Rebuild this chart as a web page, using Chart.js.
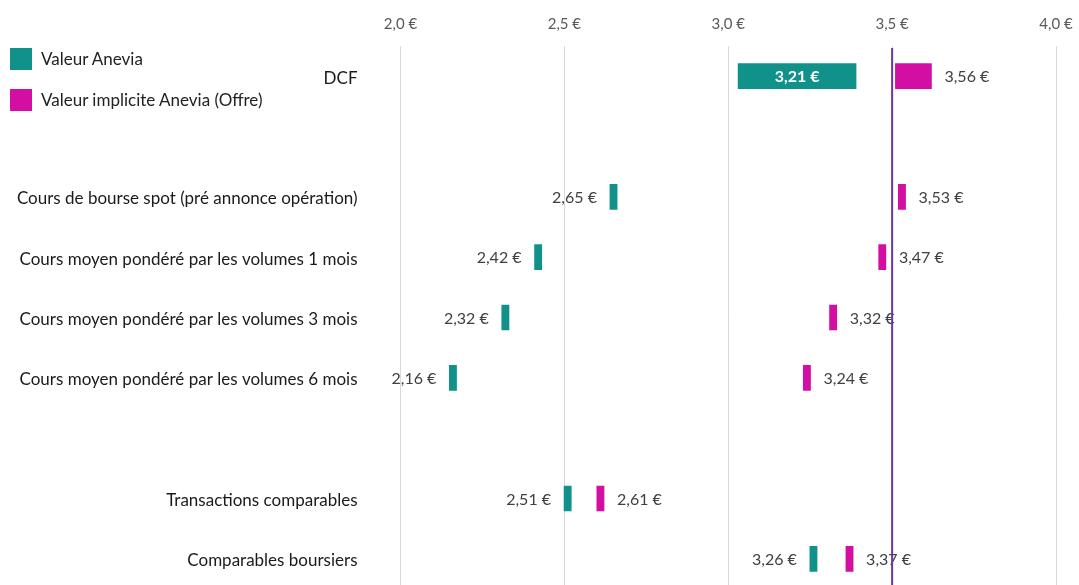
<!DOCTYPE html>
<html>
<head>
<meta charset="utf-8">
<script src="https://cdn.jsdelivr.net/npm/chart.js@4.4.1/dist/chart.umd.min.js"></script>
<style>
  html, body { margin: 0; padding: 0; background: #fff; overflow: hidden; }
  #wrap { position: relative; width: 1079px; height: 589px; }
  #myChart { display: block; }
  #legend { position: absolute; left: 10px; top: 48px; font-family: Lato, sans-serif; font-size: 17px; color: #222; }
  #legend div { height: 22px; line-height: 22px; margin-bottom: 19px; white-space: nowrap; }
  #legend span { display: inline-block; width: 22px; height: 22px; vertical-align: top; margin-right: 9px; }
</style>
</head>
<body>
<div id="wrap">
  <canvas id="myChart" width="1079" height="589"></canvas>
  <div id="legend"></div>
</div>
<script>
// rows of the chart (empty strings are spacer rows)
const categories = [
  'DCF',
  '',
  'Cours de bourse spot (pré annonce opération)',
  'Cours moyen pondéré par les volumes 1 mois',
  'Cours moyen pondéré par les volumes 3 mois',
  'Cours moyen pondéré par les volumes 6 mois',
  '',
  'Transactions comparables',
  'Comparables boursiers'
];
const seriesNames = ['Valeur Anevia', 'Valeur implicite Anevia (Offre)'];
const valeurAnevia = [3.21, null, 2.65, 2.42, 2.32, 2.16, null, 2.51, 3.26];
const valeurOffre = [3.56, null, 3.53, 3.47, 3.32, 3.24, null, 2.61, 3.37];
// DCF range (low, high)
const dcfAnevia = [3.03, 3.39];
const dcfOffre = [3.51, 3.62];
const prixOffre = 3.5;
const xTicks = [2.0, 2.5, 3.0, 3.5, 4.0];

const TEAL = '#10928a';
const MAGENTA = '#d30fa3';
const PURPLE = '#6a35a3';
const MARK_HALF = 0.011; // half width of the small markers, in €
const FONT = 'Lato, sans-serif';

const euro = (v, d) => v.toFixed(d).replace('.', ',') + ' €';

function toBars(values, dcfRange) {
  return values.map((v, i) => {
    if (v === null) return null;
    if (i === 0) return dcfRange;
    return [v - MARK_HALF, v + MARK_HALF];
  });
}

// legend (html)
const legendEl = document.getElementById('legend');
[TEAL, MAGENTA].forEach((c, i) => {
  const row = document.createElement('div');
  row.innerHTML = '<span style="background:' + c + '"></span>' + seriesNames[i];
  legendEl.appendChild(row);
});

// value labels next to / inside the bars
const valueLabels = {
  id: 'valueLabels',
  afterDatasetsDraw(chart) {
    const ctx = chart.ctx;
    const lists = [valeurAnevia, valeurOffre];
    chart.data.datasets.forEach((ds, di) => {
      const meta = chart.getDatasetMeta(di);
      meta.data.forEach((bar, i) => {
        const v = lists[di][i];
        if (v === null) return;
        const left = Math.min(bar.x, bar.base);
        const right = Math.max(bar.x, bar.base);
        ctx.save();
        ctx.textBaseline = 'middle';
        if (right - left > 60) {
          ctx.font = 'bold 16px ' + FONT;
          ctx.fillStyle = '#fff';
          ctx.textAlign = 'center';
          ctx.fillText(euro(v, 2), (left + right) / 2, bar.y + 1);
        } else {
          ctx.font = '16px ' + FONT;
          ctx.fillStyle = '#404040';
          if (di === 0) {
            ctx.textAlign = 'right';
            ctx.fillText(euro(v, 2), left - 13, bar.y + 1);
          } else {
            ctx.textAlign = 'left';
            ctx.fillText(euro(v, 2), right + 13, bar.y + 1);
          }
        }
        ctx.restore();
      });
    });
  }
};

// vertical line at the offer price
const offerLine = {
  id: 'offerLine',
  afterDraw(chart) {
    const ctx = chart.ctx;
    const x = chart.scales.x.getPixelForValue(prixOffre);
    ctx.save();
    ctx.strokeStyle = PURPLE;
    ctx.lineWidth = 2;
    ctx.beginPath();
    ctx.moveTo(x, chart.chartArea.top + 2);
    ctx.lineTo(x, chart.chartArea.bottom);
    ctx.stroke();
    ctx.restore();
  }
};

const ctx = document.getElementById('myChart');
const chart = new Chart(ctx, {
  type: 'bar',
  data: {
    labels: categories,
    datasets: [{
      label: seriesNames[0],
      data: toBars(valeurAnevia, dcfAnevia),
      backgroundColor: TEAL,
      barThickness: 25,
      grouped: false
    }, {
      label: seriesNames[1],
      data: toBars(valeurOffre, dcfOffre),
      backgroundColor: MAGENTA,
      barThickness: 25,
      grouped: false
    }]
  },
  options: {
    indexAxis: 'y',
    responsive: false,
    animation: false,
    layout: { padding: { left: 0, right: 23, top: 0, bottom: 0 } },
    plugins: {
      legend: { display: false },
      tooltip: { enabled: false }
    },
    scales: {
      x: {
        position: 'top',
        min: 2,
        max: 4,
        afterBuildTicks: s => { s.ticks = xTicks.map(v => ({ value: v })); },
        afterFit: s => {
          s.height = 46;
          s.paddingLeft = 0;
          s.paddingRight = 0;
        },
        grid: { color: '#d9d9d9', drawTicks: false },
        border: { display: false },
        ticks: {
          padding: 13,
          color: '#595959',
          font: { family: FONT, size: 15 },
          callback: v => euro(v, 1)
        }
      },
      y: {
        afterFit: s => {
          s.width = 400.5;
          s.paddingTop = 0;
          s.paddingBottom = 0;
        },
        grid: { display: false, drawTicks: false },
        border: { display: false },
        ticks: {
          padding: 43,
          labelOffset: 2,
          color: '#1a1a1a',
          font: { family: FONT, size: 17 },
          autoSkip: false
        }
      }
    }
  },
  plugins: [valueLabels, offerLine]
});
</script>
</body>
</html>
